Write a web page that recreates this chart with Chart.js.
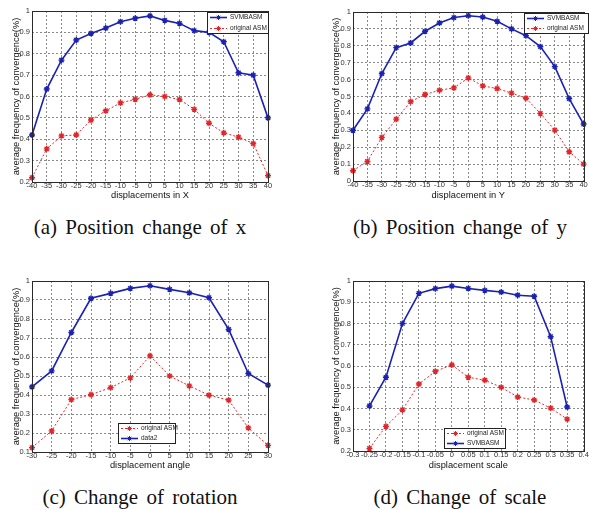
<!DOCTYPE html>
<html>
<head>
<meta charset="utf-8">
<script src="https://cdn.jsdelivr.net/npm/chart.js@4/dist/chart.umd.min.js"></script>
<style>
  html,body{margin:0;padding:0;background:#fff;}
  body{width:589px;height:510px;position:relative;overflow:hidden;}
  canvas{position:absolute;}
  .cap{position:absolute;font-family:"Liberation Serif","Times New Roman",serif;font-size:21px;line-height:21px;word-spacing:3px;color:#111;text-align:center;white-space:nowrap;}
</style>
</head>
<body>
<canvas id="ca" width="294" height="210" style="left:0;top:0"></canvas>
<canvas id="cb" width="294" height="210" style="left:295px;top:0"></canvas>
<canvas id="cc" width="294" height="210" style="left:0;top:270px"></canvas>
<canvas id="cd" width="294" height="210" style="left:295px;top:270px"></canvas>
<div class="cap" style="left:0;width:280px;top:217px">(a) Position change of x</div>
<div class="cap" style="left:320px;width:280px;top:217px">(b) Position change of y</div>
<div class="cap" style="left:0;width:280px;top:487px">(c) Change of rotation</div>
<div class="cap" style="left:320px;width:280px;top:487px">(d) Change of scale</div>
<script>
// ---------- data ----------
const xPos = [-40,-35,-30,-25,-20,-15,-10,-5,0,5,10,15,20,25,30,35,40];
const aSVMBASM = [0.42,0.635,0.77,0.864,0.895,0.92,0.95,0.966,0.977,0.956,0.942,0.908,0.90,0.856,0.711,0.70,0.50];
const aOriginal = [0.22,0.355,0.416,0.42,0.49,0.533,0.57,0.587,0.608,0.60,0.586,0.54,0.475,0.43,0.41,0.38,0.23];
const bSVMBASM = [0.30,0.427,0.636,0.789,0.817,0.886,0.935,0.967,0.978,0.97,0.945,0.90,0.86,0.795,0.677,0.488,0.337];
const bOriginal = [0.061,0.116,0.258,0.366,0.47,0.512,0.537,0.551,0.61,0.563,0.547,0.52,0.49,0.40,0.301,0.173,0.10];
const xAngle = [-30,-25,-20,-15,-10,-5,0,5,10,15,20,25,30];
const cOriginal = [0.123,0.211,0.376,0.402,0.439,0.49,0.606,0.50,0.448,0.399,0.373,0.227,0.135];
const cData2 = [0.443,0.527,0.729,0.909,0.935,0.961,0.975,0.956,0.938,0.912,0.745,0.513,0.452];
const xScale = [-0.25,-0.2,-0.15,-0.1,-0.05,0,0.05,0.1,0.15,0.2,0.25,0.3,0.35];
const dOriginal = [0.2125,0.316,0.393,0.515,0.575,0.605,0.547,0.533,0.50,0.454,0.44,0.402,0.35];
const dSVMBASM = [0.412,0.547,0.80,0.942,0.964,0.976,0.965,0.956,0.948,0.933,0.928,0.738,0.407];

const yTitle = 'average frequency of convergence(%)';

// ---------- styles ----------
const BLUE = '#1c22b0';
const RED = '#e0262a';
const GRID = '#8a8a8a';

function pts(xs, ys){ return xs.map((x,i)=>({x:x, y:ys[i]})); }
function blueSet(label, xs, ys){
  return {label, data: pts(xs,ys), borderColor: BLUE, backgroundColor: BLUE, borderWidth: 1.6,
    pointStyle:'star', pointRadius:3, pointBorderWidth:1.4, pointBorderColor: BLUE, pointBackgroundColor: BLUE,
    tension:0, clip:false};
}
function redSet(label, xs, ys){
  return {label, data: pts(xs,ys), borderColor: RED, backgroundColor: RED, borderWidth: 1, borderDash:[2,2],
    pointStyle:'star', pointRadius:3, pointBorderWidth:1.4, pointBorderColor: RED, pointBackgroundColor: RED,
    tension:0, clip:false};
}
function fmt(v){ return String(parseFloat(Number(v).toFixed(2))); }

function drawStar(ctx, x, y, r, color){
  ctx.save();
  ctx.setLineDash([]);
  ctx.strokeStyle = color; ctx.lineWidth = 1;
  ctx.beginPath();
  ctx.moveTo(x-r,y); ctx.lineTo(x+r,y);
  ctx.moveTo(x,y-r); ctx.lineTo(x,y+r);
  const d = r*0.7;
  ctx.moveTo(x-d,y-d); ctx.lineTo(x+d,y+d);
  ctx.moveTo(x-d,y+d); ctx.lineTo(x+d,y-d);
  ctx.stroke();
  ctx.restore();
}

const frameAndLegend = {
  id:'frameAndLegend',
  afterDraw(chart, args, opts){
    const {ctx, chartArea:a} = chart;
    ctx.save();
    ctx.strokeStyle = '#2a2a2a'; ctx.lineWidth = 1; ctx.setLineDash([]);
    ctx.strokeRect(Math.round(a.left)+0.5, Math.round(a.top)+0.5, Math.round(a.right-a.left), Math.round(a.bottom-a.top));
    const L = opts.box;
    if (L){
      ctx.fillStyle = '#fff';
      ctx.fillRect(L.x, L.y, L.w, L.h);
      ctx.strokeStyle = '#222';
      ctx.strokeRect(L.x+0.5, L.y+0.5, L.w, L.h);
      const dss = chart.data.datasets;
      dss.forEach((ds,k)=>{
        const cy = Math.round(L.y + L.h*(k+0.5)/dss.length) + 0.5;
        ctx.save();
        ctx.strokeStyle = ds.borderColor; ctx.lineWidth = ds.borderWidth;
        ctx.setLineDash(ds.borderDash || []);
        ctx.beginPath(); ctx.moveTo(L.x+3, cy); ctx.lineTo(L.x+20, cy); ctx.stroke();
        ctx.restore();
        drawStar(ctx, L.x+11.5, cy, 2.5, ds.borderColor);
        ctx.fillStyle = '#222';
        ctx.font = '6.5px "Liberation Sans", Arial, sans-serif';
        ctx.textBaseline = 'middle'; ctx.textAlign = 'left';
        ctx.fillText(ds.label, L.x+23, cy);
      });
    }
    ctx.restore();
  }
};

function makeChart(id, datasets, xr, yr, xTitle, lay){
  const tickFont = {family:'"Liberation Sans", Arial, sans-serif', size:7.5};
  const titleFont = {family:'"Liberation Sans", Arial, sans-serif', size:9.3};
  return new Chart(document.getElementById(id), {
    type:'line',
    data:{datasets},
    options:{
      responsive:false, animation:false, devicePixelRatio:1,
      layout:{padding:{left:0, top:lay.top, right:lay.right, bottom:0}},
      plugins:{legend:{display:false}, tooltip:{enabled:false}, frameAndLegend:{box:lay.legend}},
      scales:{
        x:{type:'linear', min:xr[0], max:xr[1],
          ticks:{stepSize:xr[2], autoSkip:false, maxRotation:0, minRotation:0, padding:-1, color:'#333', font:tickFont, callback:fmt},
          grid:{color:GRID, lineWidth:1, drawTicks:false},
          border:{display:false, dash:[2,2]},
          title:{display:true, text:xTitle, color:'#111', font:titleFont, padding:{top:0, bottom:lay.xtPad}},
          afterFit(s){ s.height = lay.xH; s.paddingLeft = 0; s.paddingRight = 0; }
        },
        y:{type:'linear', min:yr[0], max:yr[1],
          ticks:{stepSize:0.1, padding:2, color:'#333', font:tickFont, callback:fmt},
          grid:{color:GRID, lineWidth:1, drawTicks:false},
          border:{display:false, dash:[2,2]},
          title:{display:true, text:yTitle, color:'#111', font:titleFont, padding:{top:lay.ytPad, bottom:0}},
          afterFit(s){ s.width = lay.yW; s.paddingTop = 0; s.paddingBottom = 0; }
        }
      }
    },
    plugins:[frameAndLegend]
  });
}

makeChart('ca', [blueSet('SVMBASM', xPos, aSVMBASM), redSet('original ASM', xPos, aOriginal)],
  [-40,40,5], [0.2,1], 'displacements in X',
  {top:11, right:26, yW:32, xH:28, xtPad:8.5, ytPad:11, legend:{x:207, y:12, w:61, h:21}});

makeChart('cb', [blueSet('SVMBASM', xPos, bSVMBASM), redSet('original ASM', xPos, bOriginal)],
  [-40,40,5], [0,1], 'displacement in Y',
  {top:12, right:1, yW:58, xH:29, xtPad:8.5, ytPad:36.3, legend:{x:229, y:13, w:64, h:20}});

makeChart('cc', [redSet('original ASM', xAngle, cOriginal), blueSet('data2', xAngle, cData2)],
  [-30,30,5], [0.1,1], 'displacement angle',
  {top:11, right:26, yW:32, xH:28, xtPad:8.5, ytPad:11, legend:{x:118, y:153, w:57, h:20}});

makeChart('cd', [redSet('original ASM', xScale, dOriginal), blueSet('SVMBASM', xScale, dSVMBASM)],
  [-0.3,0.4,0.05], [0.2,1], 'displacement scale',
  {top:11, right:4, yW:58, xH:29, xtPad:8.5, ytPad:36.3, legend:{x:149, y:158, w:61, h:20}});
</script>
</body>
</html>
